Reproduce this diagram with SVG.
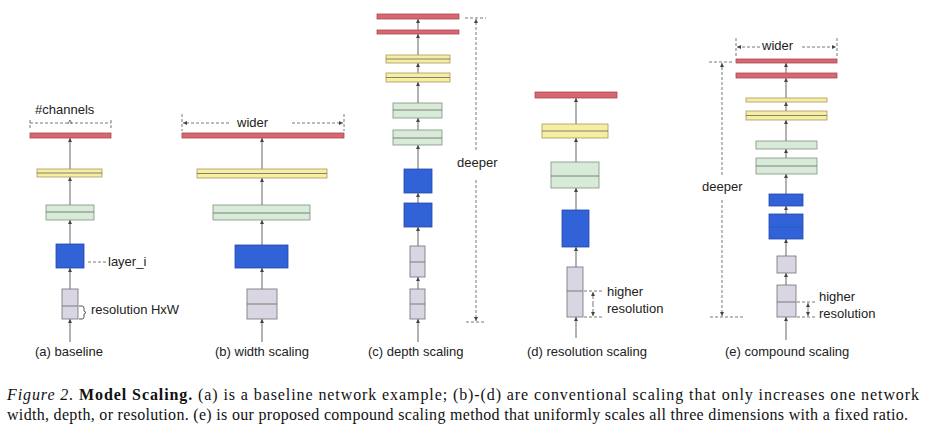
<svg xmlns="http://www.w3.org/2000/svg" width="933" height="435" viewBox="0 0 933 435">
<defs>
<style>
.red{fill:#d9676f;stroke:#a84a55;stroke-width:0.8}
.yel{fill:#f7eea2;stroke:#a89a60;stroke-width:0.8}
.grn{fill:#d8ebd8;stroke:#7f8f80;stroke-width:0.8}
.blu{fill:#3162d8;stroke:#2448a8;stroke-width:0.8}
.gry{fill:#d9d5e3;stroke:#707070;stroke-width:0.8}
.mid{stroke:#666;stroke-width:0.8}
.conn{stroke:#555;stroke-width:0.9;fill:none}
.dash{stroke:#555;stroke-width:0.8;fill:none;stroke-dasharray:3 2}
.t{font-family:"Liberation Sans",Arial,sans-serif;font-size:13px;fill:#222}
.cap{font-family:"Liberation Serif","Times New Roman",serif;font-size:16px;fill:#111}
</style>
<marker id="ah" viewBox="0 0 6 6" refX="6" refY="3" markerWidth="4" markerHeight="4" markerUnits="userSpaceOnUse" orient="auto">
<path d="M0,0 L6,3 L0,6 z" fill="#444"/>
</marker>
</defs>
<rect width="933" height="435" fill="#ffffff"/>

<g id="connectors">
<!-- (a) -->
<line class="conn" x1="70" y1="342" x2="70" y2="319" marker-end="url(#ah)"/>
<line class="conn" x1="70" y1="289" x2="70" y2="268" marker-end="url(#ah)"/>
<line class="conn" x1="70" y1="244" x2="70" y2="220" marker-end="url(#ah)"/>
<line class="conn" x1="70" y1="205" x2="70" y2="177" marker-end="url(#ah)"/>
<line class="conn" x1="70" y1="169" x2="70" y2="138" marker-end="url(#ah)"/>
<!-- (b) -->
<line class="conn" x1="262" y1="342" x2="262" y2="319" marker-end="url(#ah)"/>
<line class="conn" x1="262" y1="289" x2="262" y2="268" marker-end="url(#ah)"/>
<line class="conn" x1="262" y1="245" x2="262" y2="220" marker-end="url(#ah)"/>
<line class="conn" x1="262" y1="205" x2="262" y2="178" marker-end="url(#ah)"/>
<line class="conn" x1="262" y1="169" x2="262" y2="138" marker-end="url(#ah)"/>
<!-- (c) -->
<line class="conn" x1="418" y1="342" x2="418" y2="319" marker-end="url(#ah)"/>
<line class="conn" x1="418" y1="289" x2="418" y2="277" marker-end="url(#ah)"/>
<line class="conn" x1="418" y1="246" x2="418" y2="227" marker-end="url(#ah)"/>
<line class="conn" x1="418" y1="203" x2="418" y2="193" marker-end="url(#ah)"/>
<line class="conn" x1="418" y1="169" x2="418" y2="145" marker-end="url(#ah)"/>
<line class="conn" x1="418" y1="130" x2="418" y2="118" marker-end="url(#ah)"/>
<line class="conn" x1="418" y1="103" x2="418" y2="82" marker-end="url(#ah)"/>
<line class="conn" x1="418" y1="73" x2="418" y2="63" marker-end="url(#ah)"/>
<line class="conn" x1="418" y1="55" x2="418" y2="34" marker-end="url(#ah)"/>
<line class="conn" x1="418" y1="30" x2="418" y2="19" marker-end="url(#ah)"/>
<!-- (d) -->
<line class="conn" x1="576" y1="338" x2="576" y2="317" marker-end="url(#ah)"/>
<line class="conn" x1="576" y1="267" x2="576" y2="247" marker-end="url(#ah)"/>
<line class="conn" x1="576" y1="210" x2="576" y2="188" marker-end="url(#ah)"/>
<line class="conn" x1="576" y1="162" x2="576" y2="138" marker-end="url(#ah)"/>
<line class="conn" x1="576" y1="124" x2="576" y2="98" marker-end="url(#ah)"/>
<!-- (e) -->
<line class="conn" x1="786" y1="340" x2="786" y2="317" marker-end="url(#ah)"/>
<line class="conn" x1="786" y1="285" x2="786" y2="273" marker-end="url(#ah)"/>
<line class="conn" x1="786" y1="256" x2="786" y2="239" marker-end="url(#ah)"/>
<line class="conn" x1="786" y1="214" x2="786" y2="206" marker-end="url(#ah)"/>
<line class="conn" x1="786" y1="194" x2="786" y2="174" marker-end="url(#ah)"/>
<line class="conn" x1="786" y1="158" x2="786" y2="149" marker-end="url(#ah)"/>
<line class="conn" x1="786" y1="141" x2="786" y2="120" marker-end="url(#ah)"/>
<line class="conn" x1="786" y1="111" x2="786" y2="102" marker-end="url(#ah)"/>
<line class="conn" x1="786" y1="98" x2="786" y2="78" marker-end="url(#ah)"/>
<line class="conn" x1="786" y1="73" x2="786" y2="63" marker-end="url(#ah)"/>
</g>

<!-- (a) baseline -->
<g id="a-red"><rect class="red" x="30" y="133" width="81" height="5"/></g>
<g id="a-yellow"><rect class="yel" x="37" y="169" width="65" height="8"/><line class="mid" x1="37" y1="173" x2="102" y2="173"/></g>
<g id="a-green"><rect class="grn" x="46" y="205" width="48" height="15"/><line class="mid" x1="46" y1="212" x2="94" y2="212"/></g>
<g id="a-blue"><rect class="blu" x="56" y="244" width="28" height="24"/></g>
<g id="a-gray"><rect class="gry" x="62" y="289" width="16" height="30"/><line class="mid" x1="62" y1="306" x2="78" y2="306"/></g>
<g id="a-annot">
<text class="t" x="35" y="114">#channels</text>
<path class="dash" d="M30,128 V120 M30,123 H111 M111,120 V128"/>
<path d="M68,124 L70,120 L72,124" fill="none" stroke="#555" stroke-width="0.8"/>
<line class="dash" x1="88" y1="262" x2="107" y2="262" stroke-dasharray="2 1.5"/>
<text class="t" x="108" y="266">layer_i</text>
<path d="M79,306 h3 q2,0 2,2 v3 l2,1.5 l-2,1.5 v3 q0,2 -2,2 h-3" fill="none" stroke="#444" stroke-width="0.9"/>
<text class="t" x="91" y="314">resolution HxW</text>
<text class="t" x="35" y="356">(a) baseline</text>
</g>

<!-- (b) width scaling -->
<g id="b-red"><rect class="red" x="182" y="133" width="162" height="5"/></g>
<g id="b-yellow"><rect class="yel" x="197" y="169" width="130" height="9"/><line class="mid" x1="197" y1="173.5" x2="327" y2="173.5"/></g>
<g id="b-green"><rect class="grn" x="213" y="205" width="97" height="15"/><line class="mid" x1="213" y1="213" x2="310" y2="213"/></g>
<g id="b-blue"><rect class="blu" x="235" y="245" width="53" height="23"/></g>
<g id="b-gray"><rect class="gry" x="247" y="289" width="30" height="30"/><line class="mid" x1="247" y1="304" x2="277" y2="304"/></g>
<g id="b-annot">
<path class="dash" d="M182,114 V131 M344,114 V131"/>
<line class="dash" x1="229" y1="123" x2="183" y2="123" marker-end="url(#ah)"/>
<line class="dash" x1="292" y1="123" x2="343" y2="123" marker-end="url(#ah)"/>
<text class="t" x="237" y="127">wider</text>
<text class="t" x="215" y="356">(b) width scaling</text>
</g>

<!-- (c) depth scaling -->
<g id="c-red1"><rect class="red" x="377" y="14" width="82" height="5"/></g>
<g id="c-red2"><rect class="red" x="377" y="30" width="82" height="4"/></g>
<g id="c-yellow1"><rect class="yel" x="386" y="55" width="64" height="8"/><line class="mid" x1="386" y1="59" x2="450" y2="59"/></g>
<g id="c-yellow2"><rect class="yel" x="386" y="73" width="64" height="9"/><line class="mid" x1="386" y1="77.5" x2="450" y2="77.5"/></g>
<g id="c-green1"><rect class="grn" x="393" y="103" width="49" height="15"/><line class="mid" x1="393" y1="110" x2="442" y2="110"/></g>
<g id="c-green2"><rect class="grn" x="393" y="130" width="49" height="15"/><line class="mid" x1="393" y1="138" x2="442" y2="138"/></g>
<g id="c-blue1"><rect class="blu" x="404" y="169" width="28" height="24"/></g>
<g id="c-blue2"><rect class="blu" x="404" y="203" width="28" height="24"/></g>
<g id="c-gray1"><rect class="gry" x="410" y="246" width="15" height="31"/><line class="mid" x1="410" y1="262" x2="425" y2="262"/></g>
<g id="c-gray2"><rect class="gry" x="410" y="289" width="15" height="30"/><line class="mid" x1="410" y1="304" x2="425" y2="304"/></g>
<g id="c-annot">
<path class="dash" d="M465,18 H486 M466,322 H486" stroke-dasharray="2 2"/>
<line class="dash" x1="476" y1="150" x2="476" y2="19" stroke-dasharray="2 2" marker-end="url(#ah)"/>
<line class="dash" x1="476" y1="180" x2="476" y2="321" stroke-dasharray="2 2" marker-end="url(#ah)"/>
<text class="t" x="457" y="167">deeper</text>
<text class="t" x="368" y="356">(c) depth scaling</text>
</g>

<!-- (d) resolution scaling -->
<g id="d-red"><rect class="red" x="535" y="92" width="82" height="6"/></g>
<g id="d-yellow"><rect class="yel" x="542" y="124" width="66" height="14"/><line class="mid" x1="542" y1="131" x2="608" y2="131"/></g>
<g id="d-green"><rect class="grn" x="551" y="162" width="48" height="26"/><line class="mid" x1="551" y1="176" x2="599" y2="176"/></g>
<g id="d-blue"><rect class="blu" x="562" y="210" width="27" height="37"/></g>
<g id="d-gray"><rect class="gry" x="567" y="267" width="16" height="50"/><line class="mid" x1="567" y1="291" x2="583" y2="291"/></g>
<g id="d-annot">
<path class="dash" d="M584,291 H604 M584,317 H604" stroke-dasharray="2 2"/>
<line class="dash" x1="593" y1="304" x2="593" y2="292" stroke-dasharray="2 2" marker-end="url(#ah)"/>
<line class="dash" x1="593" y1="304" x2="593" y2="316" stroke-dasharray="2 2" marker-end="url(#ah)"/>
<text class="t" x="607" y="296">higher</text>
<text class="t" x="607" y="313">resolution</text>
<text class="t" x="527" y="356">(d) resolution scaling</text>
</g>

<!-- (e) compound scaling -->
<g id="e-red1"><rect class="red" x="736" y="59" width="101" height="4"/></g>
<g id="e-red2"><rect class="red" x="736" y="73" width="101" height="5"/></g>
<g id="e-yellow1"><rect class="yel" x="746" y="98" width="81" height="4"/></g>
<g id="e-yellow2"><rect class="yel" x="746" y="111" width="81" height="9"/><line class="mid" x1="746" y1="115.5" x2="827" y2="115.5"/></g>
<g id="e-green1"><rect class="grn" x="756" y="141" width="61" height="8"/></g>
<g id="e-green2"><rect class="grn" x="756" y="158" width="61" height="16"/><line class="mid" x1="756" y1="166" x2="817" y2="166"/></g>
<g id="e-blue1"><rect class="blu" x="769" y="194" width="34" height="12"/></g>
<g id="e-blue2"><rect class="blu" x="769" y="214" width="34" height="25"/><line x1="769" y1="227" x2="803" y2="227" stroke="#2a55c4" stroke-width="0.8"/></g>
<g id="e-gray1"><rect class="gry" x="777" y="256" width="19" height="17"/></g>
<g id="e-gray2"><rect class="gry" x="777" y="285" width="19" height="32"/><line class="mid" x1="777" y1="302" x2="796" y2="302"/></g>
<g id="e-annot">
<path class="dash" d="M736,38 V56 M837,38 V56"/>
<line class="dash" x1="760" y1="47" x2="737" y2="47" marker-end="url(#ah)"/>
<line class="dash" x1="802" y1="47" x2="836" y2="47" marker-end="url(#ah)"/>
<text class="t" x="762" y="50">wider</text>
<path class="dash" d="M709,62 H734 M710,317 H745" stroke-dasharray="2 2"/>
<line class="dash" x1="722" y1="175" x2="722" y2="63" stroke-dasharray="2 2" marker-end="url(#ah)"/>
<line class="dash" x1="722" y1="200" x2="722" y2="316" stroke-dasharray="2 2" marker-end="url(#ah)"/>
<text class="t" x="702" y="191">deeper</text>
<path class="dash" d="M797,302 H816 M797,317 H816" stroke-dasharray="2 2"/>
<line class="dash" x1="808" y1="309.5" x2="808" y2="303" stroke-dasharray="2 2" marker-end="url(#ah)"/>
<line class="dash" x1="808" y1="309.5" x2="808" y2="316" stroke-dasharray="2 2" marker-end="url(#ah)"/>
<text class="t" x="819" y="301">higher</text>
<text class="t" x="819" y="318">resolution</text>
<text class="t" x="725" y="356">(e) compound scaling</text>
</g>

<g id="caption">
<text class="cap" x="7" y="400" textLength="912" lengthAdjust="spacing"><tspan font-style="italic">Figure 2.</tspan> <tspan font-weight="bold">Model Scaling.</tspan> (a) is a baseline network example; (b)-(d) are conventional scaling that only increases one network</text>
<text class="cap" x="7" y="420" textLength="901" lengthAdjust="spacing">width, depth, or resolution. (e) is our proposed compound scaling method that uniformly scales all three dimensions with a fixed ratio.</text>
</g>
</svg>
